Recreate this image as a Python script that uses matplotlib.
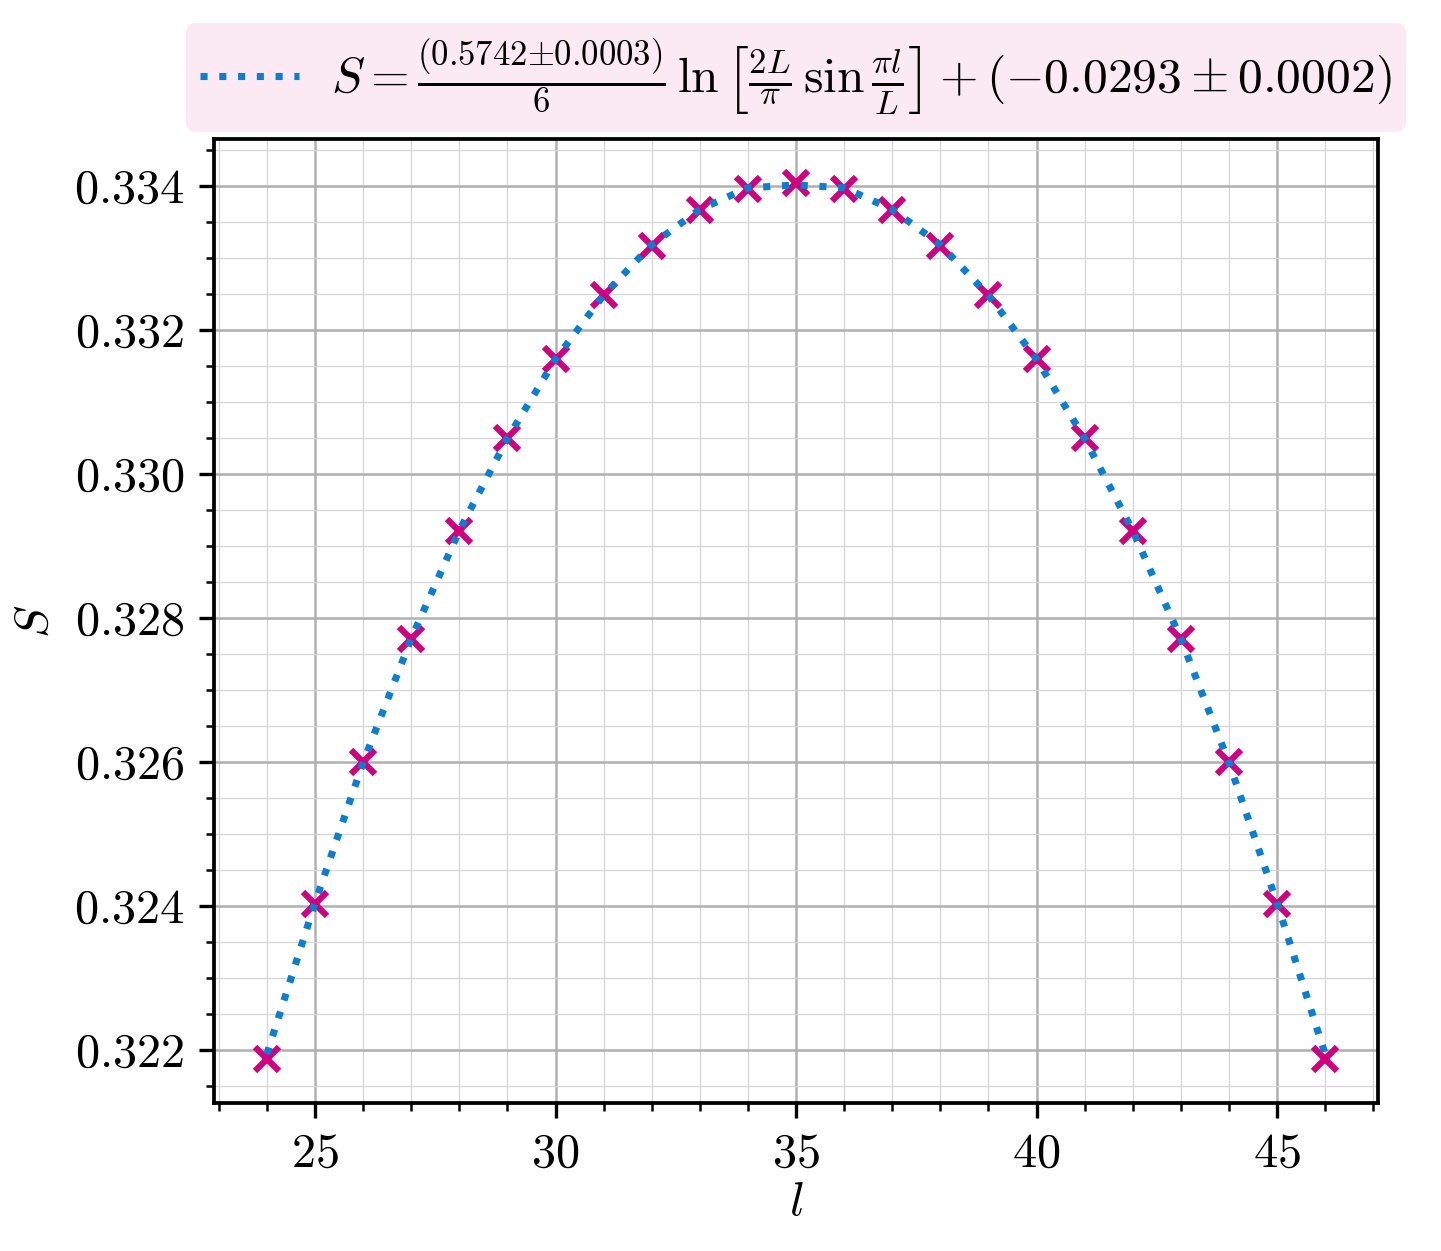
import matplotlib

matplotlib.use("Agg")

import matplotlib.pyplot as plt

# subsystem sizes and entanglement entropy
l_vals = [24, 25, 26, 27, 28, 29, 30, 31, 32, 33, 34, 35,
          36, 37, 38, 39, 40, 41, 42, 43, 44, 45, 46]
s_data = [0.32187, 0.32403, 0.32599, 0.32771, 0.32921, 0.33049, 0.33159,
          0.33248, 0.33316, 0.33366, 0.33395, 0.33404, 0.33395, 0.33366,
          0.33316, 0.33248, 0.33159, 0.33049, 0.32921, 0.32771, 0.32599,
          0.32403, 0.32187]
s_fit = [0.32194, 0.32404, 0.32599, 0.32771, 0.32921, 0.33049, 0.33159,
         0.33248, 0.33318, 0.33367, 0.33397, 0.33401, 0.33397, 0.33367,
         0.33318, 0.33248, 0.33159, 0.33049, 0.32921, 0.32771, 0.32599,
         0.32404, 0.32194]

fit_label = (r"$S = \frac{(0.5742{\pm}0.0003)}{6}\,\ln\left[\frac{2L}{\pi}\,\sin\frac{\pi l}{L}\right]"
             r" + (-0.0293 \pm 0.0002)$")

plt.rcParams["font.family"] = "serif"
plt.rcParams["font.serif"] = ["cmr10"]
plt.rcParams["mathtext.fontset"] = "cm"
plt.rcParams["axes.formatter.use_mathtext"] = True
plt.rcParams["font.size"] = 11.6

fig = plt.figure(figsize=(1441 / 300, 1251 / 300), dpi=300)
ax = fig.add_axes([0.1485, 0.1183, 0.8078, 0.7706])

ax.plot(l_vals, s_data, "x", color="#d0007e", markersize=5.8, markeredgewidth=1.5, zorder=3)
ax.plot(l_vals, s_fit, ":", color="#0a7fd2", lw=1.7, label=fit_label, zorder=4)

ax.minorticks_on()
ax.grid(True, which="major", color="#b0b0b0", lw=0.6)
ax.grid(True, which="minor", color="#d5d5d5", lw=0.3)
ax.set_axisbelow(True)
ax.set_xlabel(r"$l$", labelpad=1)
ax.set_ylabel(r"$S$", labelpad=4)
ax.set_xticks([25, 30, 35, 40, 45])
ax.set_xticklabels([r"$%d$" % v for v in [25, 30, 35, 40, 45]])
yt = [0.322, 0.324, 0.326, 0.328, 0.330, 0.332, 0.334]
ax.set_yticks(yt)
ax.set_yticklabels([r"$%.3f$" % v for v in yt])
for s in ax.spines.values():
    s.set_linewidth(0.9)

leg = ax.legend(loc="lower center", bbox_to_anchor=(0.5, 1.0), frameon=True,
                facecolor="#fbe9f3", edgecolor="none", framealpha=1.0,
                fancybox=True, fontsize=11.9, handlelength=2.0, handletextpad=0.65,
                borderpad=0.28, borderaxespad=0.15)

fig.savefig("out.png", dpi=300)
